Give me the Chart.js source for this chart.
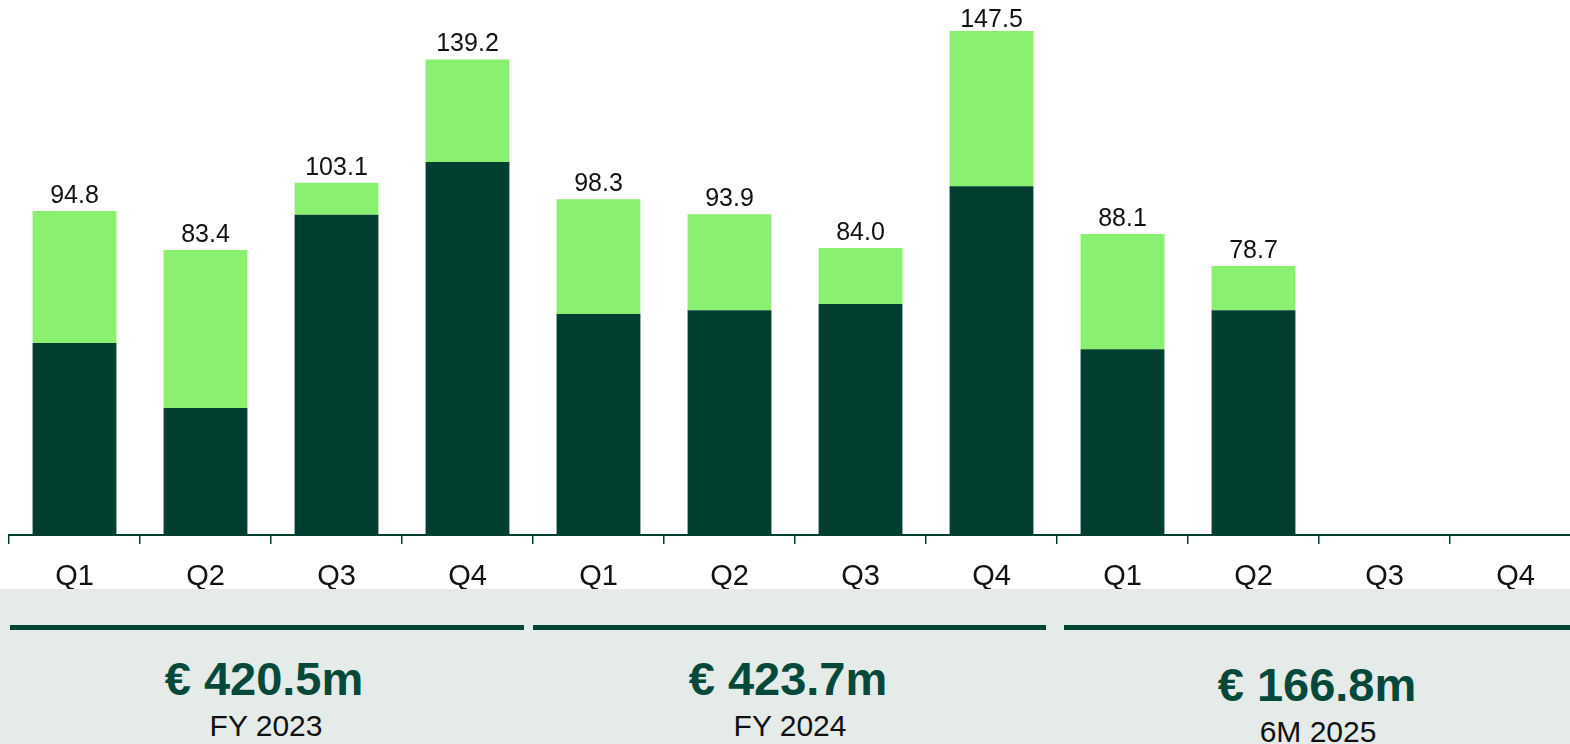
<!DOCTYPE html>
<html>
<head>
<meta charset="utf-8">
<script src="https://cdn.jsdelivr.net/npm/chart.js@4.4.1/dist/chart.umd.min.js"></script>
<style>
  html, body { margin: 0; padding: 0; background: #fff; }
  body { width: 1570px; height: 744px; position: relative; overflow: hidden; font-family: "Liberation Sans", Arial, sans-serif; }
  #wrap { position: absolute; left: 0; top: 0; width: 1582px; height: 590px; }
  #panel { position: absolute; left: 0; top: 589px; width: 1570px; height: 155px; background: #e4ebe8; }
  .linea { position: absolute; top: 36px; height: 5px; background: #034534; }
  .total { position: absolute; width: 400px; text-align: center; font-weight: bold; font-size: 47px; line-height: 47px; color: #04493a; }
  .periodo { position: absolute; width: 400px; text-align: center; font-size: 30px; line-height: 30px; color: #111; }
</style>
</head>
<body>
<div id="wrap"><canvas id="grafico"></canvas></div>
<div id="panel">
  <div class="linea" style="left:10px; width:514px;"></div>
  <div class="linea" style="left:533px; width:513px;"></div>
  <div class="linea" style="left:1064px; width:506px;"></div>
  <div class="total" style="left:64px; top:66px;">€ 420.5m</div>
  <div class="periodo" style="left:66px; top:122px;">FY 2023</div>
  <div class="total" style="left:588px; top:66px;">€ 423.7m</div>
  <div class="periodo" style="left:590px; top:122px;">FY 2024</div>
  <div class="total" style="left:1117px; top:72px;">€ 166.8m</div>
  <div class="periodo" style="left:1118px; top:128px;">6M 2025</div>
</div>
<script>
// datos por trimestre
const trimestres = ['Q1', 'Q2', 'Q3', 'Q4', 'Q1', 'Q2', 'Q3', 'Q4', 'Q1', 'Q2', 'Q3', 'Q4'];
const totales = [94.8, 83.4, 103.1, 139.2, 98.3, 93.9, 84.0, 147.5, 88.1, 78.7, null, null];
const parteOscura = [56.2, 37.2, 93.7, 109.2, 64.7, 65.8, 67.6, 102.1, 54.4, 65.8, null, null];
const parteClara = totales.map((t, i) => t === null ? null : +(t - parteOscura[i]).toFixed(1));

const verdeOscuro = '#023f30';
const verdeClaro = '#8af070';

// etiqueta del total encima de cada barra
const etiquetasTotales = {
  id: 'etiquetasTotales',
  afterDatasetsDraw(chart) {
    const ctx = chart.ctx;
    const meta = chart.getDatasetMeta(1);
    ctx.save();
    ctx.font = '25px "Liberation Sans", Arial, sans-serif';
    ctx.fillStyle = '#111';
    ctx.textAlign = 'center';
    ctx.textBaseline = 'alphabetic';
    meta.data.forEach((barra, i) => {
      if (totales[i] === null) return;
      // no dejar que el texto se salga por arriba
      const y = Math.max(barra.y - 8, 27);
      ctx.fillText(totales[i].toFixed(1), barra.x, y);
    });
    ctx.restore();
  }
};

const ctx = document.getElementById('grafico').getContext('2d');
new Chart(ctx, {
  type: 'bar',
  data: {
    labels: trimestres,
    datasets: [{
      data: parteOscura,
      backgroundColor: verdeOscuro,
      borderWidth: 0,
      barPercentage: 0.64,
      categoryPercentage: 1
    }, {
      data: parteClara,
      backgroundColor: verdeClaro,
      borderWidth: 0,
      barPercentage: 0.64,
      categoryPercentage: 1
    }]
  },
  options: {
    responsive: true,
    maintainAspectRatio: false,
    animation: false,
    layout: { padding: { left: 9, right: 1, top: 22.5, bottom: 0 } },
    plugins: { legend: { display: false }, tooltip: { enabled: false } },
    scales: {
      x: {
        stacked: true,
        grid: { display: true, drawOnChartArea: false, drawTicks: true, tickLength: 9, color: verdeOscuro, lineWidth: 1.5 },
        border: { display: true, color: verdeOscuro, width: 2 },
        ticks: { color: '#111', font: { family: '"Liberation Sans", Arial, sans-serif', size: 29 }, padding: 16 },
        afterFit(escala) { escala.height = 55; }
      },
      y: {
        stacked: true,
        display: false,
        min: 0,
        max: 150
      }
    }
  },
  plugins: [etiquetasTotales]
});
</script>
</body>
</html>
